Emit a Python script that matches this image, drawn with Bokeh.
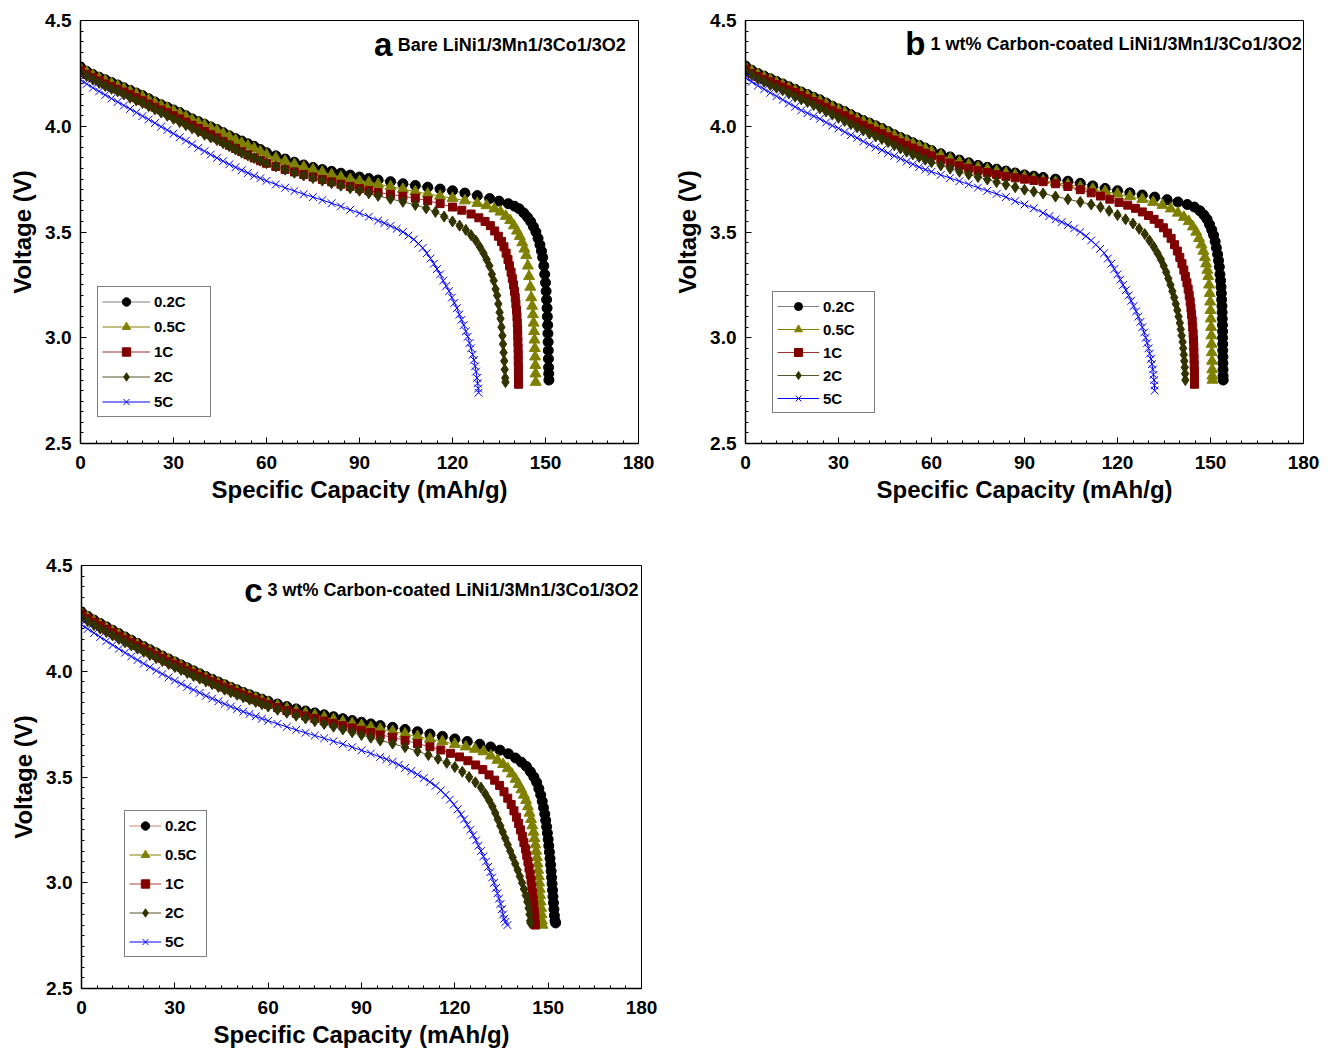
from bokeh.plotting import figure
from bokeh.models import Label, SingleIntervalTicker, NumeralTickFormatter, Range1d
from bokeh.layouts import column, row
from bokeh.embed import file_html
from bokeh.resources import INLINE

FONT = "Liberation Sans"

RATES = ["0.2C", "0.5C", "1C", "2C", "5C"]
MARKERS = ["circle", "triangle", "square", "diamond", "x"]
SIZES = [10, 11, 8, 11, 11]
FILL = ["#000000", "#808000", "#800000", "#333300", "#0000ff"]
LINE_AB = ["#808080", "#808000", "#a03030", "#55552a", "#0000ff"]
LINE_C = ["#c8866e", "#808000", "#b04040", "#55552a", "#0000ff"]

XTICK_STEP = 30
YTICK_STEP = 0.5

# Capacity (mAh/g) sampling positions of the sloping part, shared by all curves
CAP_GRID = [0, 2, 4, 6, 8, 10, 12, 14, 16, 18, 20, 22, 24, 26, 28, 30, 32, 34, 36, 38, 40,
            42, 44, 46, 48, 50, 52, 54, 56, 58, 60, 63, 66, 69, 72, 75, 78, 81, 84, 87, 90, 93, 96]

# ---------------- Panel a: Bare LiNi1/3Mn1/3Co1/3O2 — voltage (V) on CAP_GRID, then (capacity, voltage) tail
A_02_V = [4.280, 4.260, 4.245, 4.232, 4.220, 4.207, 4.195, 4.182, 4.170, 4.157, 4.145, 4.130, 4.115, 4.102,
          4.090, 4.077, 4.065, 4.050, 4.035, 4.022, 4.010, 3.997, 3.985, 3.970, 3.955, 3.942, 3.930, 3.917,
          3.905, 3.890, 3.875, 3.860, 3.845, 3.830, 3.817, 3.805, 3.795, 3.787, 3.778, 3.769, 3.760, 3.753, 3.746]
A_02_T = [(100, 3.738), (104, 3.728), (108, 3.72), (112, 3.712), (116, 3.703), (120, 3.695), (124, 3.684),
          (128, 3.672), (132, 3.658), (135, 3.646), (138, 3.634), (140, 3.622), (141.5, 3.61), (143, 3.59),
          (144.2, 3.57), (145.2, 3.55), (146.1, 3.525), (146.9, 3.50), (147.6, 3.47), (148.2, 3.44),
          (148.7, 3.41), (149.1, 3.38), (149.45, 3.34), (149.75, 3.30), (150.0, 3.26), (150.2, 3.22),
          (150.35, 3.18), (150.5, 3.14), (150.6, 3.10), (150.7, 3.06), (150.78, 3.02), (150.85, 2.98),
          (150.9, 2.94), (150.95, 2.90), (151.0, 2.86), (151.05, 2.83), (151.1, 2.80)]
A_05_V = [4.275, 4.255, 4.240, 4.227, 4.215, 4.202, 4.190, 4.177, 4.165, 4.152, 4.140, 4.125, 4.110, 4.097,
          4.085, 4.072, 4.060, 4.045, 4.030, 4.017, 4.005, 3.992, 3.980, 3.965, 3.950, 3.935, 3.920, 3.907,
          3.895, 3.880, 3.865, 3.850, 3.835, 3.820, 3.807, 3.795, 3.783, 3.771, 3.759, 3.749, 3.740, 3.733, 3.726]
A_05_T = [(100, 3.715), (104, 3.703), (108, 3.691), (112, 3.68), (116, 3.67), (120, 3.66), (124, 3.648),
          (128, 3.636), (131, 3.625), (133.5, 3.61), (135.5, 3.595), (137.2, 3.575), (138.6, 3.555),
          (139.8, 3.53), (140.8, 3.505), (141.7, 3.48), (142.5, 3.45), (143.2, 3.42), (143.8, 3.39),
          (144.3, 3.34), (144.7, 3.29), (145.1, 3.24), (145.4, 3.19), (145.7, 3.15), (145.95, 3.11),
          (146.15, 3.07), (146.3, 3.03), (146.45, 2.99), (146.55, 2.95), (146.65, 2.91), (146.72, 2.87),
          (146.8, 2.83), (146.85, 2.79)]
A_1_V = [4.265, 4.245, 4.230, 4.215, 4.200, 4.187, 4.175, 4.162, 4.150, 4.135, 4.120, 4.105, 4.090, 4.077,
         4.065, 4.050, 4.035, 4.020, 4.005, 3.990, 3.975, 3.960, 3.945, 3.928, 3.910, 3.895, 3.880, 3.865,
         3.850, 3.837, 3.825, 3.810, 3.796, 3.784, 3.772, 3.760, 3.748, 3.737, 3.726, 3.715, 3.705, 3.696, 3.687]
A_1_T = [(100, 3.678), (104, 3.669), (108, 3.66), (112, 3.648), (116, 3.634), (120, 3.618), (123, 3.603),
         (126, 3.585), (128.5, 3.567), (130.5, 3.55), (132.2, 3.53), (133.6, 3.505), (134.8, 3.48),
         (135.8, 3.455), (136.6, 3.43), (137.3, 3.40), (137.9, 3.37), (138.4, 3.34), (138.9, 3.31),
         (139.3, 3.28), (139.7, 3.25), (140.0, 3.22), (140.25, 3.19), (140.45, 3.16), (140.65, 3.13),
         (140.8, 3.10), (140.9, 3.07), (141.0, 3.04), (141.05, 3.01), (141.1, 2.98), (141.15, 2.95),
         (141.2, 2.92), (141.2, 2.89), (141.25, 2.86), (141.25, 2.83), (141.3, 2.80), (141.3, 2.78)]
A_2_V = [4.255, 4.237, 4.220, 4.205, 4.190, 4.177, 4.165, 4.150, 4.135, 4.122, 4.110, 4.095, 4.080, 4.065,
         4.050, 4.035, 4.020, 4.005, 3.990, 3.975, 3.960, 3.947, 3.935, 3.920, 3.905, 3.890, 3.875, 3.862,
         3.850, 3.837, 3.825, 3.810, 3.795, 3.780, 3.767, 3.755, 3.743, 3.731, 3.719, 3.707, 3.695, 3.683, 3.671]
A_2_T = [(100, 3.657), (104, 3.643), (108, 3.628), (111.5, 3.612), (114.5, 3.595), (117.3, 3.573),
         (120, 3.55), (122.3, 3.53), (124.3, 3.51), (126, 3.485), (127.5, 3.46), (128.8, 3.43), (130, 3.40),
         (131, 3.37), (131.9, 3.34), (132.7, 3.30), (133.3, 3.27), (133.9, 3.23), (134.4, 3.20),
         (134.8, 3.16), (135.2, 3.12), (135.5, 3.09), (135.8, 3.05), (136.1, 3.01), (136.3, 2.97),
         (136.5, 2.93), (136.7, 2.89), (136.85, 2.85), (137.0, 2.81), (137.1, 2.79)]
A_5_V = [4.220, 4.200, 4.182, 4.165, 4.148, 4.131, 4.115, 4.098, 4.082, 4.065, 4.048, 4.032, 4.015, 3.998,
         3.982, 3.965, 3.948, 3.932, 3.915, 3.898, 3.882, 3.866, 3.850, 3.835, 3.820, 3.806, 3.792, 3.779,
         3.766, 3.754, 3.742, 3.725, 3.709, 3.694, 3.679, 3.665, 3.651, 3.636, 3.621, 3.605, 3.589, 3.572, 3.554]
A_5_T = [(98, 3.542), (100, 3.529), (102, 3.515), (104, 3.50), (105.8, 3.483), (107.5, 3.465), (109, 3.445),
         (110.4, 3.425), (111.7, 3.40), (112.9, 3.375), (114, 3.35), (115, 3.325), (116, 3.30), (117, 3.27),
         (118, 3.245), (118.9, 3.22), (119.8, 3.19), (120.6, 3.165), (121.4, 3.14), (122.2, 3.11),
         (122.9, 3.085), (123.6, 3.06), (124.3, 3.03), (124.9, 3.005), (125.5, 2.975), (126, 2.95),
         (126.5, 2.92), (126.9, 2.895), (127.3, 2.865), (127.6, 2.84), (127.9, 2.81), (128.1, 2.785),
         (128.3, 2.76), (128.4, 2.74)]

# ---------------- Panel b: 1 wt% carbon-coated
B_02_V = [4.285, 4.265, 4.250, 4.237, 4.225, 4.212, 4.200, 4.187, 4.175, 4.162, 4.150, 4.137, 4.125, 4.110,
          4.095, 4.082, 4.070, 4.055, 4.040, 4.027, 4.015, 4.002, 3.990, 3.975, 3.960, 3.947, 3.935, 3.922,
          3.910, 3.897, 3.885, 3.870, 3.855, 3.840, 3.827, 3.815, 3.806, 3.797, 3.788, 3.779, 3.770, 3.764, 3.758]
B_02_T = [(100, 3.75), (104, 3.74), (108, 3.73), (112, 3.718), (116, 3.706), (120, 3.695), (124, 3.685),
          (128, 3.675), (132, 3.665), (136, 3.653), (139.5, 3.642), (142.5, 3.63), (144.8, 3.618),
          (146.6, 3.60), (147.9, 3.58), (148.9, 3.56), (149.7, 3.535), (150.4, 3.51), (151, 3.485),
          (151.5, 3.455), (151.9, 3.425), (152.3, 3.395), (152.6, 3.365), (152.85, 3.335), (153.05, 3.30),
          (153.25, 3.27), (153.4, 3.24), (153.5, 3.21), (153.6, 3.18), (153.7, 3.15), (153.75, 3.12),
          (153.8, 3.09), (153.85, 3.06), (153.9, 3.03), (153.9, 3.00), (153.95, 2.97), (153.95, 2.94),
          (154.0, 2.91), (154.0, 2.88), (154.05, 2.85), (154.05, 2.82), (154.1, 2.80)]
B_05_V = [4.280, 4.260, 4.245, 4.232, 4.220, 4.207, 4.195, 4.182, 4.170, 4.157, 4.145, 4.132, 4.120, 4.105,
          4.090, 4.077, 4.065, 4.050, 4.035, 4.022, 4.010, 3.997, 3.985, 3.970, 3.955, 3.942, 3.930, 3.917,
          3.905, 3.892, 3.880, 3.862, 3.846, 3.831, 3.817, 3.805, 3.796, 3.787, 3.778, 3.769, 3.760, 3.751, 3.743]
B_05_T = [(100, 3.735), (104, 3.724), (108, 3.714), (112, 3.703), (116, 3.692), (120, 3.68), (124, 3.668),
          (128, 3.655), (131.5, 3.641), (134.5, 3.627), (137.2, 3.61), (139.5, 3.59), (141.4, 3.57),
          (143, 3.55), (144.3, 3.525), (145.4, 3.50), (146.3, 3.47), (147.1, 3.44), (147.7, 3.41),
          (148.2, 3.38), (148.6, 3.35), (149, 3.32), (149.3, 3.29), (149.55, 3.25), (149.75, 3.21),
          (149.9, 3.17), (150.0, 3.13), (150.1, 3.09), (150.2, 3.05), (150.3, 3.01), (150.35, 2.97),
          (150.4, 2.93), (150.5, 2.89), (150.55, 2.85), (150.6, 2.82), (150.65, 2.80)]
B_1_V = [4.270, 4.250, 4.235, 4.222, 4.210, 4.197, 4.185, 4.172, 4.160, 4.145, 4.130, 4.117, 4.105, 4.090,
         4.075, 4.062, 4.050, 4.035, 4.020, 4.005, 3.990, 3.977, 3.965, 3.950, 3.935, 3.922, 3.910, 3.897,
         3.885, 3.872, 3.860, 3.842, 3.826, 3.813, 3.801, 3.790, 3.781, 3.772, 3.763, 3.756, 3.750, 3.744, 3.738]
B_1_T = [(100, 3.728), (104, 3.715), (108, 3.70), (111.5, 3.685), (114.5, 3.67), (117.5, 3.655),
         (120.5, 3.64), (123.3, 3.627), (125.8, 3.612), (128, 3.595), (130, 3.578), (131.8, 3.56),
         (133.4, 3.54), (134.8, 3.52), (136.1, 3.495), (137.3, 3.47), (138.4, 3.44), (139.3, 3.41),
         (140.1, 3.38), (140.8, 3.35), (141.4, 3.32), (141.9, 3.29), (142.4, 3.26), (142.8, 3.23),
         (143.15, 3.20), (143.45, 3.17), (143.7, 3.14), (143.9, 3.11), (144.1, 3.08), (144.25, 3.05),
         (144.4, 3.02), (144.5, 2.99), (144.6, 2.96), (144.65, 2.93), (144.7, 2.90), (144.75, 2.87),
         (144.8, 2.84), (144.85, 2.81), (144.85, 2.78)]
B_2_V = [4.260, 4.242, 4.225, 4.210, 4.195, 4.182, 4.170, 4.155, 4.140, 4.127, 4.115, 4.100, 4.085, 4.070,
         4.055, 4.040, 4.025, 4.010, 3.995, 3.980, 3.965, 3.952, 3.940, 3.925, 3.910, 3.895, 3.880, 3.867,
         3.855, 3.842, 3.830, 3.815, 3.800, 3.785, 3.772, 3.760, 3.748, 3.736, 3.724, 3.712, 3.700, 3.691, 3.682]
B_2_T = [(100, 3.668), (104, 3.655), (108, 3.642), (111.5, 3.63), (114.5, 3.618), (117.3, 3.60), (120, 3.58),
         (122.6, 3.56), (125, 3.54), (127, 3.515), (128.8, 3.49), (130.3, 3.46), (131.7, 3.43), (132.9, 3.40),
         (134, 3.37), (134.9, 3.34), (135.7, 3.31), (136.4, 3.28), (137.1, 3.25), (137.7, 3.22),
         (138.3, 3.19), (138.8, 3.16), (139.3, 3.13), (139.7, 3.10), (140.1, 3.07), (140.4, 3.04),
         (140.7, 3.01), (141, 2.98), (141.2, 2.95), (141.4, 2.92), (141.55, 2.89), (141.7, 2.86),
         (141.8, 2.83), (141.9, 2.80)]
B_5_V = [4.230, 4.210, 4.192, 4.175, 4.158, 4.142, 4.125, 4.108, 4.092, 4.075, 4.062, 4.048, 4.035, 4.018,
         4.003, 3.990, 3.973, 3.958, 3.945, 3.928, 3.913, 3.900, 3.887, 3.873, 3.860, 3.847, 3.833, 3.820,
         3.807, 3.795, 3.785, 3.770, 3.755, 3.740, 3.725, 3.710, 3.695, 3.680, 3.665, 3.646, 3.630, 3.612, 3.590]
B_5_T = [(98, 3.575), (100, 3.56), (102, 3.547), (104, 3.533), (106, 3.517), (108, 3.50), (109.8, 3.48),
         (111.5, 3.46), (113, 3.44), (114.4, 3.42), (115.7, 3.40), (116.9, 3.375), (118, 3.35), (119, 3.325),
         (120, 3.30), (120.9, 3.275), (121.8, 3.25), (122.7, 3.225), (123.6, 3.20), (124.4, 3.175),
         (125.2, 3.15), (126, 3.125), (126.7, 3.10), (127.4, 3.075), (128, 3.05), (128.6, 3.025),
         (129.1, 3.00), (129.6, 2.975), (130, 2.95), (130.4, 2.925), (130.8, 2.90), (131.1, 2.875),
         (131.4, 2.85), (131.6, 2.825), (131.8, 2.80), (131.9, 2.775), (132, 2.75)]

# ---------------- Panel c: 3 wt% carbon-coated
C_02_V = [4.280, 4.260, 4.242, 4.226, 4.210, 4.194, 4.178, 4.162, 4.147, 4.132, 4.117, 4.102, 4.087, 4.072,
          4.058, 4.044, 4.030, 4.016, 4.002, 3.988, 3.975, 3.962, 3.949, 3.936, 3.924, 3.912, 3.900, 3.889,
          3.878, 3.868, 3.858, 3.845, 3.833, 3.822, 3.812, 3.803, 3.794, 3.785, 3.776, 3.767, 3.759, 3.751, 3.743]
C_02_T = [(100, 3.735), (104, 3.725), (108, 3.714), (112, 3.703), (116, 3.692), (120, 3.68), (124, 3.668),
          (128, 3.655), (131.5, 3.642), (134.5, 3.627), (137.2, 3.61), (139.5, 3.59), (141.4, 3.57),
          (143, 3.55), (144.3, 3.525), (145.4, 3.50), (146.3, 3.475), (147, 3.445), (147.6, 3.415),
          (148.1, 3.385), (148.5, 3.355), (148.9, 3.325), (149.2, 3.295), (149.5, 3.265), (149.75, 3.235),
          (150, 3.205), (150.2, 3.175), (150.4, 3.145), (150.6, 3.115), (150.8, 3.085), (150.95, 3.055),
          (151.1, 3.025), (151.25, 2.995), (151.4, 2.965), (151.55, 2.935), (151.7, 2.905), (151.85, 2.875),
          (152, 2.845), (152.2, 2.82), (152.4, 2.81)]
C_05_V = [4.275, 4.255, 4.237, 4.221, 4.205, 4.189, 4.173, 4.157, 4.142, 4.127, 4.112, 4.097, 4.082, 4.067,
          4.053, 4.039, 4.025, 4.011, 3.997, 3.983, 3.970, 3.957, 3.944, 3.931, 3.919, 3.907, 3.895, 3.884,
          3.873, 3.862, 3.852, 3.838, 3.825, 3.813, 3.802, 3.792, 3.782, 3.772, 3.762, 3.753, 3.744, 3.735, 3.727]
C_05_T = [(100, 3.716), (104, 3.704), (108, 3.692), (112, 3.68), (116, 3.668), (120, 3.655), (123.5, 3.643),
          (126.5, 3.632), (129.2, 3.62), (131.6, 3.60), (133.7, 3.58), (135.5, 3.56), (137, 3.54),
          (138.3, 3.515), (139.5, 3.49), (140.5, 3.465), (141.4, 3.44), (142.2, 3.415), (142.9, 3.39),
          (143.5, 3.36), (144, 3.33), (144.5, 3.30), (144.9, 3.27), (145.3, 3.24), (145.6, 3.21),
          (145.9, 3.18), (146.15, 3.15), (146.4, 3.12), (146.6, 3.09), (146.8, 3.06), (147, 3.03),
          (147.15, 3.00), (147.3, 2.97), (147.45, 2.94), (147.6, 2.91), (147.75, 2.88), (147.9, 2.85),
          (148.05, 2.82), (148.2, 2.80)]
C_1_V = [4.270, 4.250, 4.232, 4.215, 4.198, 4.182, 4.166, 4.150, 4.135, 4.120, 4.105, 4.090, 4.075, 4.060,
         4.046, 4.032, 4.018, 4.004, 3.990, 3.976, 3.963, 3.950, 3.937, 3.924, 3.912, 3.900, 3.888, 3.876,
         3.865, 3.854, 3.843, 3.828, 3.814, 3.801, 3.789, 3.777, 3.765, 3.754, 3.743, 3.732, 3.721, 3.710, 3.699]
C_1_T = [(100, 3.688), (104, 3.673), (108, 3.658), (112, 3.643), (115.5, 3.628), (118.6, 3.612),
         (121.5, 3.595), (124.2, 3.577), (126.7, 3.557), (129, 3.535), (131, 3.51), (132.8, 3.485),
         (134.4, 3.46), (135.8, 3.43), (137, 3.40), (138.1, 3.37), (139, 3.34), (139.8, 3.31), (140.5, 3.28),
         (141.1, 3.25), (141.7, 3.22), (142.2, 3.19), (142.7, 3.16), (143.1, 3.13), (143.5, 3.10),
         (143.85, 3.07), (144.2, 3.04), (144.5, 3.01), (144.75, 2.98), (145, 2.95), (145.2, 2.92),
         (145.4, 2.89), (145.6, 2.86), (145.75, 2.83), (145.9, 2.80)]
C_2_V = [4.255, 4.236, 4.218, 4.201, 4.185, 4.169, 4.153, 4.137, 4.122, 4.107, 4.092, 4.077, 4.062, 4.048,
         4.034, 4.020, 4.006, 3.992, 3.978, 3.965, 3.952, 3.939, 3.926, 3.913, 3.901, 3.889, 3.877, 3.866,
         3.855, 3.844, 3.833, 3.818, 3.804, 3.790, 3.777, 3.764, 3.751, 3.738, 3.725, 3.712, 3.699, 3.686, 3.673]
C_2_T = [(100, 3.658), (104, 3.641), (108, 3.622), (111.5, 3.604), (114.6, 3.586), (117.4, 3.567),
         (120, 3.547), (122.4, 3.525), (124.6, 3.50), (126.6, 3.475), (128.4, 3.45), (129.8, 3.42),
         (131, 3.39), (132.1, 3.36), (133, 3.33), (133.8, 3.30), (134.6, 3.27), (135.4, 3.24), (136.2, 3.21),
         (137, 3.18), (137.8, 3.15), (138.6, 3.12), (139.4, 3.09), (140.2, 3.06), (140.9, 3.03),
         (141.6, 3.00), (142.2, 2.97), (142.8, 2.94), (143.3, 2.91), (143.7, 2.88), (144, 2.85),
         (144.2, 2.82), (144.3, 2.81)]
C_5_V = [4.220, 4.200, 4.181, 4.162, 4.143, 4.124, 4.106, 4.088, 4.070, 4.053, 4.036, 4.019, 4.003, 3.987,
         3.971, 3.956, 3.941, 3.926, 3.912, 3.898, 3.884, 3.871, 3.858, 3.845, 3.833, 3.821, 3.809, 3.798,
         3.787, 3.776, 3.766, 3.751, 3.737, 3.723, 3.709, 3.696, 3.683, 3.669, 3.655, 3.641, 3.626, 3.611, 3.595]
C_5_T = [(98, 3.584), (100, 3.572), (102, 3.558), (104, 3.543), (106, 3.528), (108, 3.512), (110, 3.495),
         (112, 3.477), (113.8, 3.458), (115.5, 3.437), (117, 3.415), (118.4, 3.393), (119.7, 3.37),
         (120.9, 3.347), (122, 3.323), (123, 3.30), (124, 3.275), (125, 3.25), (125.9, 3.225), (126.8, 3.20),
         (127.6, 3.175), (128.4, 3.15), (129.2, 3.125), (130, 3.10), (130.7, 3.075), (131.4, 3.05),
         (132, 3.025), (132.6, 3.00), (133.2, 2.975), (133.7, 2.95), (134.2, 2.925), (134.7, 2.90),
         (135.1, 2.875), (135.5, 2.85), (135.9, 2.83), (136.3, 2.815), (136.9, 2.80)]

AXIS_X_LABEL = "Specific Capacity (mAh/g)"
AXIS_Y_LABEL = "Voltage (V)"


def curve(v_grid, tail):
    assert len(v_grid) == len(CAP_GRID), (len(v_grid), len(CAP_GRID))
    cap = list(CAP_GRID) + [t[0] for t in tail]
    volt = list(v_grid) + [t[1] for t in tail]
    return cap, volt


def make_panel(series, line_colors, width, height, bl, br, bt, bb,
               letter, title, letter_x, title_x, title_y, leg):
    p = figure(width=width, height=height, x_range=Range1d(0, 180), y_range=Range1d(2.5, 4.5),
               output_backend="svg", toolbar_location=None,
               min_border_left=bl, min_border_right=br, min_border_top=bt, min_border_bottom=bb,
               x_axis_label=AXIS_X_LABEL, y_axis_label=AXIS_Y_LABEL)
    p.xaxis.ticker = SingleIntervalTicker(interval=XTICK_STEP, num_minor_ticks=6)
    p.yaxis.ticker = SingleIntervalTicker(interval=YTICK_STEP, num_minor_ticks=10)
    p.yaxis.formatter = NumeralTickFormatter(format="0.0")
    for ax in (p.xaxis[0], p.yaxis[0]):
        ax.major_tick_in = 6
        ax.major_tick_out = 0
        ax.minor_tick_in = 3
        ax.minor_tick_out = 0
        ax.axis_line_width = 1.5
        ax.axis_line_color = "black"
        ax.major_tick_line_color = "black"
        ax.minor_tick_line_color = "black"
        ax.major_label_text_font = FONT
        ax.major_label_text_font_size = "19px"
        ax.major_label_text_font_style = "bold"
        ax.major_label_text_color = "black"
        ax.axis_label_text_font = FONT
        ax.axis_label_text_font_size = "24px"
        ax.axis_label_text_font_style = "bold"
        ax.axis_label_text_color = "black"
    p.xaxis.major_label_standoff = 12
    p.yaxis.major_label_standoff = 9
    p.xaxis.axis_label_standoff = 4
    p.yaxis.axis_label_standoff = 6
    p.xgrid.visible = False
    p.ygrid.visible = False
    p.outline_line_color = "black"
    p.outline_line_width = 1
    p.outline_line_alpha = 1
    p.background_fill_color = "white"
    p.border_fill_color = "white"

    for i, (rate, (v_grid, tail)) in enumerate(zip(RATES, series)):
        cap, volt = curve(v_grid, tail)
        p.line(cap, volt, line_color=line_colors[i], line_width=1, legend_label=rate)
        if MARKERS[i] == "x":
            p.scatter(cap, volt, marker="x", size=SIZES[i], line_color=FILL[i], line_width=1,
                      legend_label=rate)
        else:
            p.scatter(cap, volt, marker=MARKERS[i], size=SIZES[i], fill_color=FILL[i],
                      line_color=FILL[i], legend_label=rate)

    lg = p.legend[0]
    lg.location = leg["loc"]
    lg.border_line_color = "black"
    lg.border_line_width = 1
    lg.background_fill_color = "white"
    lg.background_fill_alpha = 1
    lg.label_text_font = FONT
    lg.label_text_font_size = "15px"
    lg.label_text_font_style = "bold"
    lg.label_text_color = "black"
    lg.padding = 4
    lg.margin = 0
    lg.spacing = leg["spacing"]
    lg.glyph_height = leg["gh"]
    lg.label_height = leg["gh"]
    lg.glyph_width = leg["gw"]
    lg.label_width = leg["lw"]
    lg.label_standoff = 4

    p.add_layout(Label(x=letter_x, y=title_y, text=letter, text_align="right",
                       text_baseline="alphabetic", text_font=FONT, text_font_size="33px",
                       text_font_style="bold", text_color="black"))
    p.add_layout(Label(x=title_x, y=title_y, text=title, text_align="left",
                       text_baseline="alphabetic", text_font=FONT, text_font_size="18px",
                       text_font_style="bold", text_color="black"))
    return p


pa = make_panel([(A_02_V, A_02_T), (A_05_V, A_05_T), (A_1_V, A_1_T), (A_2_V, A_2_T), (A_5_V, A_5_T)],
                LINE_AB, 668, 538, 80, 30, 20, 95,
                "a", "Bare LiNi1/3Mn1/3Co1/3O2", 100.6, 102.3, 4.386,
                dict(loc=(17, 26), spacing=4, gh=21, gw=48, lw=52))
pb = make_panel([(B_02_V, B_02_T), (B_05_V, B_05_T), (B_1_V, B_1_T), (B_2_V, B_2_T), (B_5_V, B_5_T)],
                LINE_AB, 655, 538, 77, 20, 20, 95,
                "b", "1 wt% Carbon-coated LiNi1/3Mn1/3Co1/3O2", 58.0, 59.7, 4.391,
                dict(loc=(27, 30), spacing=3, gh=20, gw=42, lw=47))
pc = make_panel([(C_02_V, C_02_T), (C_05_V, C_05_T), (C_1_V, C_1_T), (C_2_V, C_2_T), (C_5_V, C_5_T)],
                LINE_C, 668, 512, 81, 27, 27, 62,
                "c", "3 wt% Carbon-coated LiNi1/3Mn1/3Co1/3O2", 58.2, 59.8, 4.382,
                dict(loc=(43, 31), spacing=8, gh=21, gw=32, lw=37))

layout = column(row(pa, pb), pc)
open("out.html", "w").write(file_html(layout, INLINE))
